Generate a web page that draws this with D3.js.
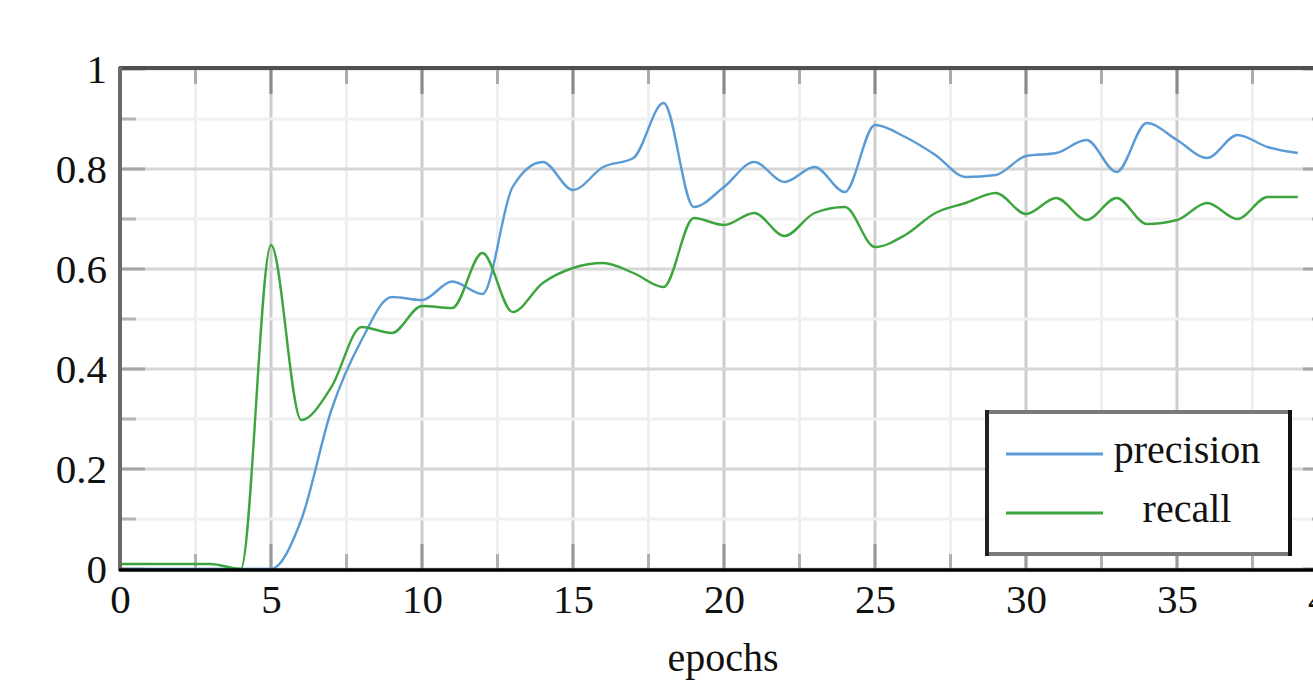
<!DOCTYPE html>
<html>
<head>
<meta charset="utf-8">
<script src="https://cdn.jsdelivr.net/npm/d3@7"></script>
<style>
html,body{margin:0;padding:0;background:#fff;overflow:hidden;}
svg{display:block;}
text{font-family:"Liberation Serif","DejaVu Serif",serif;fill:#111;}
</style>
</head>
<body>
<svg id="chart" width="1313" height="681"></svg>
<script>
// ---- data ----
const epochs = d3.range(0, 40);
const precision = [0, 0, 0, 0, 0, 0, 0.098, 0.318, 0.458, 0.544,
  0.538, 0.575, 0.55, 0.764, 0.814, 0.758, 0.804, 0.822, 0.932, 0.724,
  0.764, 0.814, 0.774, 0.804, 0.754, 0.888, 0.864, 0.828, 0.784, 0.788,
  0.826, 0.832, 0.858, 0.794, 0.892, 0.858, 0.822, 0.868, 0.844, 0.832];
const recall = [0.01, 0.01, 0.01, 0.01, 0, 0.648, 0.298, 0.364, 0.484, 0.472,
  0.526, 0.522, 0.632, 0.514, 0.572, 0.602, 0.612, 0.592, 0.564, 0.702,
  0.688, 0.712, 0.666, 0.712, 0.724, 0.644, 0.668, 0.712, 0.732, 0.752,
  0.71, 0.742, 0.698, 0.742, 0.69, 0.698, 0.732, 0.70, 0.744, 0.744];
const seriesNames = ["precision", "recall"];
const xTickValues = [0, 5, 10, 15, 20, 25, 30, 35, 40];
const xTickLabels = ["0", "5", "10", "15", "20", "25", "30", "35", "40"];
const yTickValues = [0, 0.2, 0.4, 0.6, 0.8, 1];
const yTickLabels = ["0", "0.2", "0.4", "0.6", "0.8", "1"];
const xLabel = "epochs";

// ---- layout ----
const svg = d3.select("#chart");
const L = 120, R = 1328, T = 69, B = 569;
const x = d3.scaleLinear().domain([0, 40]).range([L, R]);
const y = d3.scaleLinear().domain([0, 1]).range([B, T]);
const colors = {precision: "#5b9bd5", recall: "#3da53d"};

// grid
const gx = d3.range(0, 40.01, 2.5);
const gy = d3.range(0, 1.001, 0.1).map(v => +v.toFixed(2));
const grid = svg.append("g");
grid.selectAll("line.gx").data(gx).join("line")
  .attr("x1", d => x(d)).attr("x2", d => x(d)).attr("y1", T).attr("y2", B)
  .attr("stroke", d => d % 5 === 0 ? "#cdcdcd" : "#efefef").attr("stroke-width", 3);
grid.selectAll("line.gy").data(gy).join("line")
  .attr("y1", d => y(d)).attr("y2", d => y(d)).attr("x1", L).attr("x2", R)
  .attr("stroke", d => Math.round(d * 10) % 2 === 0 ? "#d6d6d6" : "#f0f0f0").attr("stroke-width", 3);

// tick marks (inward)
const ticks = svg.append("g");
const isMajX = d => d % 5 === 0;
const isMajY = d => Math.round(d * 10) % 2 === 0;
gx.forEach(d => {
  const len = isMajX(d) ? 25 : 15;
  ticks.append("line").attr("x1", x(d)).attr("x2", x(d)).attr("y1", T).attr("y2", T + len)
    .attr("stroke", isMajX(d) ? "#8a8a8a" : "#aaaaaa").attr("stroke-width", 3);
  ticks.append("line").attr("x1", x(d)).attr("x2", x(d)).attr("y1", B).attr("y2", B - len)
    .attr("stroke", isMajX(d) ? "#999" : "#b0b0b0").attr("stroke-width", 3);
});
gy.forEach(d => {
  const len = isMajY(d) ? 25 : 16;
  ticks.append("line").attr("y1", y(d)).attr("y2", y(d)).attr("x1", L).attr("x2", L + len)
    .attr("stroke", isMajY(d) ? "#a5a5a5" : "#b5b5b5").attr("stroke-width", 3);
  ticks.append("line").attr("y1", y(d)).attr("y2", y(d)).attr("x1", R).attr("x2", R - len)
    .attr("stroke", isMajY(d) ? "#a5a5a5" : "#b5b5b5").attr("stroke-width", 3);
});

// series lines
const line = d3.line().x((d, i) => x(epochs[i])).y(d => y(d)).curve(d3.curveMonotoneX);
const series = {precision: precision, recall: recall};
seriesNames.forEach(name => {
  svg.append("path").datum(series[name]).attr("d", line)
    .attr("fill", "none").attr("stroke", colors[name]).attr("stroke-width", 2.4)
    .attr("stroke-linejoin", "round");
});

// frame
svg.append("line").attr("x1", L - 1).attr("x2", R).attr("y1", T - 1).attr("y2", T - 1)
  .attr("stroke", "#505050").attr("stroke-width", 4);
svg.append("line").attr("x1", L).attr("x2", L).attr("y1", T - 2).attr("y2", B + 2)
  .attr("stroke", "#6a6a6a").attr("stroke-width", 4);
svg.append("line").attr("x1", L - 1).attr("x2", R).attr("y1", B + 1).attr("y2", B + 1)
  .attr("stroke", "#000").attr("stroke-width", 3.5);
svg.append("line").attr("x1", R).attr("x2", R).attr("y1", T - 2).attr("y2", B + 2)
  .attr("stroke", "#333").attr("stroke-width", 4);

// axes labels
const fontSize = 41;
const xAxis = d3.axisBottom(x).tickValues(xTickValues)
  .tickFormat((d, i) => xTickLabels[i]).tickSize(0).tickPadding(15);
const gxA = svg.append("g").attr("transform", `translate(0,${B})`).call(xAxis);
gxA.select(".domain").remove();
gxA.selectAll("text").attr("font-size", fontSize).attr("fill", "#111")
  .style("font-family", '"Liberation Serif", serif');

const yAxis = d3.axisLeft(y).tickValues(yTickValues)
  .tickFormat((d, i) => yTickLabels[i]).tickSize(0).tickPadding(13);
const gyA = svg.append("g").attr("transform", `translate(${L},0)`).call(yAxis);
gyA.select(".domain").remove();
gyA.selectAll("text").attr("font-size", fontSize).attr("fill", "#111")
  .style("font-family", '"Liberation Serif", serif');

svg.append("text").attr("x", x(20) - 1).attr("y", 671).attr("text-anchor", "middle")
  .attr("font-size", 40).text(xLabel);

// legend
const lg = svg.append("g");
const lx0 = 987, lx1 = 1290, ly0 = 412, ly1 = 554;
lg.append("rect").attr("x", lx0).attr("y", ly0).attr("width", lx1 - lx0).attr("height", ly1 - ly0)
  .attr("fill", "#fff");
lg.append("line").attr("x1", lx0).attr("x2", lx1).attr("y1", ly0).attr("y2", ly0).attr("stroke", "#7a7a7a").attr("stroke-width", 4);
lg.append("line").attr("x1", lx0).attr("x2", lx1).attr("y1", ly1).attr("y2", ly1).attr("stroke", "#7a7a7a").attr("stroke-width", 4);
lg.append("line").attr("x1", lx0).attr("x2", lx0).attr("y1", ly0 - 2).attr("y2", ly1 + 2).attr("stroke", "#222").attr("stroke-width", 4);
lg.append("line").attr("x1", lx1).attr("x2", lx1).attr("y1", ly0 - 2).attr("y2", ly1 + 2).attr("stroke", "#111").attr("stroke-width", 4);
const legendY = [454, 513];
const legendTextY = [463, 522];
seriesNames.forEach((name, i) => {
  lg.append("line").attr("x1", 1006).attr("x2", 1103).attr("y1", legendY[i]).attr("y2", legendY[i])
    .attr("stroke", colors[name]).attr("stroke-width", 3);
  lg.append("text").attr("x", 1187).attr("y", legendTextY[i]).attr("text-anchor", "middle")
    .attr("font-size", 40).text(name);
});
</script>
</body>
</html>
